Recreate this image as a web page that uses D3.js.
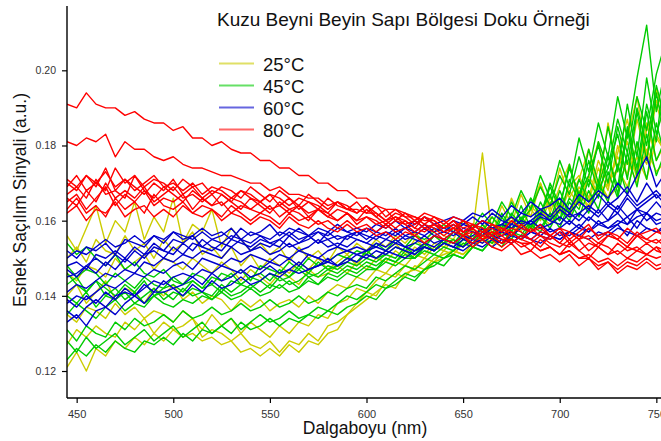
<!DOCTYPE html>
<html>
<head>
<meta charset="utf-8">
<script src="https://cdn.jsdelivr.net/npm/d3@7"></script>
<style>
  html, body { margin: 0; padding: 0; background: #fff; }
  svg { display: block; font-family: "Liberation Sans", Arial, Helvetica, sans-serif; }
</style>
</head>
<body>
<svg id="chart" width="661" height="441"></svg>
<script>
// Wavelength grid of the recorded spectra (nm)
const wavelengths = [
  445, 450, 455, 460, 465, 470, 475, 480, 485, 490,
  495, 500, 505, 510, 515, 520, 525, 530, 535, 540,
  545, 550, 555, 560, 565, 570, 575, 580, 585, 590,
  595, 600, 605, 610, 615, 620, 625, 630, 635, 640,
  645, 650, 655, 660, 665, 670, 675, 680, 685, 690,
  695, 700, 705, 710, 715, 720, 725, 730, 735, 740,
  745, 750, 755
];

const temperatures = ["25°C", "45°C", "60°C", "80°C"];
const seriesColors = ["#cccc00", "#00cc00", "#0000cc", "#ff0000"];

const xTicks = [450, 500, 550, 600, 650, 700, 750];
const yTicks = [0.12, 0.14, 0.16, 0.18, 0.20];

// 25°C spectra
const spectra25 = [
  [0.156, 0.152, 0.158, 0.164, 0.154, 0.160, 0.157, 0.165, 0.155, 0.161,
   0.157, 0.166, 0.154, 0.159, 0.157, 0.163, 0.153, 0.158, 0.155, 0.152,
   0.154, 0.151, 0.153, 0.149, 0.153, 0.150, 0.152, 0.149, 0.153, 0.151,
   0.154, 0.152, 0.155, 0.153, 0.156, 0.154, 0.157, 0.154, 0.158, 0.156,
   0.155, 0.160, 0.157, 0.178, 0.156, 0.164, 0.159, 0.167, 0.161, 0.170,
   0.163, 0.174, 0.166, 0.171, 0.179, 0.168, 0.186, 0.174, 0.182, 0.193,
   0.177, 0.195, 0.186],
  [0.150, 0.153, 0.149, 0.155, 0.152, 0.151, 0.156, 0.152, 0.154, 0.150,
   0.155, 0.152, 0.154, 0.157, 0.151, 0.153, 0.150, 0.153, 0.148, 0.151,
   0.147, 0.150, 0.148, 0.146, 0.149, 0.147, 0.150, 0.147, 0.149, 0.151,
   0.148, 0.152, 0.150, 0.152, 0.154, 0.151, 0.155, 0.153, 0.156, 0.154,
   0.157, 0.155, 0.159, 0.158, 0.161, 0.157, 0.166, 0.160, 0.163, 0.170,
   0.162, 0.169, 0.175, 0.165, 0.172, 0.181, 0.169, 0.178, 0.187, 0.173,
   0.184, 0.191, 0.182],
  [0.146, 0.144, 0.148, 0.147, 0.145, 0.150, 0.147, 0.149, 0.151, 0.147,
   0.150, 0.149, 0.147, 0.150, 0.148, 0.146, 0.149, 0.147, 0.144, 0.147,
   0.145, 0.143, 0.146, 0.145, 0.143, 0.147, 0.145, 0.146, 0.148, 0.146,
   0.149, 0.147, 0.150, 0.149, 0.152, 0.150, 0.153, 0.151, 0.154, 0.153,
   0.155, 0.153, 0.157, 0.155, 0.159, 0.158, 0.161, 0.157, 0.164, 0.161,
   0.166, 0.163, 0.169, 0.172, 0.166, 0.176, 0.170, 0.174, 0.181, 0.171,
   0.186, 0.176, 0.181],
  [0.140, 0.143, 0.138, 0.141, 0.144, 0.139, 0.142, 0.141, 0.138, 0.142,
   0.140, 0.143, 0.139, 0.141, 0.138, 0.140, 0.139, 0.136, 0.139, 0.137,
   0.139, 0.136, 0.138, 0.139, 0.137, 0.140, 0.138, 0.141, 0.143, 0.142,
   0.145, 0.144, 0.147, 0.146, 0.149, 0.148, 0.151, 0.150, 0.153, 0.152,
   0.155, 0.153, 0.156, 0.154, 0.158, 0.157, 0.160, 0.158, 0.163, 0.160,
   0.165, 0.162, 0.168, 0.164, 0.172, 0.167, 0.170, 0.177, 0.172, 0.180,
   0.175, 0.183, 0.178],
  [0.135, 0.133, 0.137, 0.136, 0.134, 0.138, 0.135, 0.137, 0.134, 0.136,
   0.135, 0.133, 0.136, 0.134, 0.131, 0.135, 0.132, 0.134, 0.130, 0.133,
   0.131, 0.129, 0.132, 0.130, 0.133, 0.132, 0.135, 0.134, 0.138, 0.139,
   0.142, 0.141, 0.144, 0.146, 0.145, 0.148, 0.147, 0.150, 0.149, 0.152,
   0.151, 0.154, 0.153, 0.156, 0.154, 0.158, 0.156, 0.160, 0.157, 0.163,
   0.160, 0.164, 0.161, 0.168, 0.163, 0.171, 0.166, 0.169, 0.176, 0.170,
   0.179, 0.173, 0.176],
  [0.127, 0.131, 0.129, 0.132, 0.130, 0.129, 0.133, 0.131, 0.134, 0.130,
   0.133, 0.131, 0.132, 0.134, 0.129, 0.131, 0.130, 0.128, 0.130, 0.127,
   0.126, 0.128, 0.125, 0.128, 0.127, 0.130, 0.128, 0.132, 0.133, 0.135,
   0.138, 0.141, 0.140, 0.144, 0.146, 0.145, 0.148, 0.147, 0.150, 0.151,
   0.152, 0.151, 0.154, 0.156, 0.154, 0.158, 0.156, 0.159, 0.158, 0.161,
   0.159, 0.163, 0.161, 0.167, 0.164, 0.170, 0.166, 0.174, 0.169, 0.177,
   0.171, 0.182, 0.178],
  [0.121, 0.125, 0.120, 0.126, 0.124, 0.128, 0.126, 0.129, 0.127, 0.130,
   0.128, 0.131, 0.129, 0.130, 0.128, 0.129, 0.127, 0.128, 0.125, 0.126,
   0.124, 0.126, 0.124, 0.127, 0.125, 0.128, 0.127, 0.130, 0.131, 0.135,
   0.137, 0.139, 0.141, 0.143, 0.142, 0.146, 0.147, 0.146, 0.149, 0.150,
   0.152, 0.151, 0.153, 0.155, 0.153, 0.157, 0.155, 0.159, 0.158, 0.163,
   0.160, 0.166, 0.162, 0.169, 0.165, 0.174, 0.168, 0.180, 0.172, 0.187,
   0.176, 0.192, 0.186]
];

// 45°C spectra
const spectra45 = [
  [0.154, 0.151, 0.153, 0.150, 0.148, 0.151, 0.147, 0.149, 0.146, 0.145,
   0.147, 0.144, 0.143, 0.146, 0.145, 0.143, 0.146, 0.145, 0.147, 0.144,
   0.148, 0.147, 0.146, 0.149, 0.147, 0.150, 0.148, 0.149, 0.151, 0.150,
   0.152, 0.151, 0.154, 0.152, 0.155, 0.153, 0.156, 0.155, 0.157, 0.159,
   0.157, 0.160, 0.158, 0.162, 0.159, 0.165, 0.161, 0.168, 0.163, 0.172,
   0.166, 0.176, 0.169, 0.182, 0.173, 0.186, 0.177, 0.193, 0.182, 0.198,
   0.212, 0.189, 0.201],
  [0.148, 0.145, 0.147, 0.146, 0.143, 0.146, 0.144, 0.142, 0.145, 0.143,
   0.142, 0.145, 0.143, 0.144, 0.142, 0.145, 0.144, 0.146, 0.143, 0.145,
   0.146, 0.144, 0.147, 0.145, 0.148, 0.146, 0.149, 0.147, 0.148, 0.150,
   0.149, 0.152, 0.150, 0.151, 0.153, 0.152, 0.154, 0.153, 0.156, 0.154,
   0.157, 0.156, 0.159, 0.157, 0.161, 0.158, 0.165, 0.160, 0.163, 0.169,
   0.164, 0.172, 0.167, 0.177, 0.169, 0.181, 0.174, 0.187, 0.178, 0.193,
   0.184, 0.199, 0.208],
  [0.143, 0.145, 0.141, 0.144, 0.142, 0.140, 0.143, 0.141, 0.144, 0.140,
   0.142, 0.143, 0.141, 0.144, 0.142, 0.143, 0.141, 0.144, 0.143, 0.145,
   0.144, 0.146, 0.144, 0.145, 0.147, 0.145, 0.146, 0.148, 0.147, 0.149,
   0.148, 0.150, 0.149, 0.151, 0.150, 0.153, 0.151, 0.154, 0.152, 0.155,
   0.154, 0.157, 0.155, 0.159, 0.156, 0.162, 0.158, 0.160, 0.166, 0.161,
   0.170, 0.164, 0.174, 0.167, 0.172, 0.180, 0.170, 0.185, 0.175, 0.190,
   0.180, 0.196, 0.186],
  [0.140, 0.138, 0.141, 0.137, 0.140, 0.139, 0.141, 0.138, 0.140, 0.142,
   0.139, 0.141, 0.140, 0.142, 0.141, 0.140, 0.143, 0.141, 0.143, 0.142,
   0.144, 0.142, 0.145, 0.143, 0.144, 0.146, 0.145, 0.147, 0.146, 0.148,
   0.147, 0.149, 0.148, 0.150, 0.149, 0.152, 0.150, 0.153, 0.152, 0.154,
   0.153, 0.156, 0.155, 0.158, 0.155, 0.161, 0.157, 0.164, 0.158, 0.162,
   0.167, 0.160, 0.171, 0.165, 0.176, 0.168, 0.174, 0.183, 0.171, 0.189,
   0.176, 0.194, 0.181],
  [0.135, 0.138, 0.136, 0.134, 0.137, 0.139, 0.136, 0.138, 0.137, 0.140,
   0.138, 0.137, 0.139, 0.138, 0.140, 0.139, 0.141, 0.139, 0.140, 0.142,
   0.140, 0.141, 0.143, 0.141, 0.142, 0.144, 0.143, 0.145, 0.144, 0.146,
   0.145, 0.147, 0.147, 0.149, 0.148, 0.150, 0.150, 0.152, 0.151, 0.153,
   0.152, 0.155, 0.154, 0.157, 0.155, 0.159, 0.157, 0.161, 0.158, 0.165,
   0.160, 0.168, 0.162, 0.171, 0.165, 0.169, 0.178, 0.167, 0.184, 0.172,
   0.189, 0.176, 0.182],
  [0.131, 0.128, 0.132, 0.130, 0.129, 0.133, 0.131, 0.134, 0.132, 0.133,
   0.135, 0.133, 0.136, 0.134, 0.135, 0.137, 0.135, 0.136, 0.138, 0.136,
   0.137, 0.139, 0.137, 0.138, 0.140, 0.138, 0.139, 0.141, 0.140, 0.142,
   0.143, 0.142, 0.145, 0.144, 0.146, 0.148, 0.147, 0.149, 0.151, 0.150,
   0.152, 0.154, 0.153, 0.155, 0.154, 0.157, 0.155, 0.159, 0.157, 0.161,
   0.158, 0.163, 0.160, 0.166, 0.162, 0.170, 0.165, 0.175, 0.167, 0.181,
   0.171, 0.186, 0.176],
  [0.128, 0.125, 0.129, 0.126, 0.128, 0.130, 0.127, 0.129, 0.131, 0.128,
   0.130, 0.132, 0.129, 0.131, 0.133, 0.130, 0.132, 0.134, 0.131, 0.133,
   0.135, 0.133, 0.134, 0.136, 0.134, 0.135, 0.137, 0.136, 0.138, 0.140,
   0.139, 0.141, 0.143, 0.142, 0.144, 0.146, 0.145, 0.147, 0.149, 0.148,
   0.151, 0.150, 0.153, 0.152, 0.155, 0.153, 0.157, 0.155, 0.159, 0.157,
   0.162, 0.158, 0.165, 0.161, 0.168, 0.163, 0.173, 0.166, 0.178, 0.169,
   0.183, 0.172, 0.179],
  [0.123, 0.126, 0.124, 0.127, 0.125, 0.128, 0.126, 0.125, 0.128, 0.127,
   0.129, 0.127, 0.130, 0.128, 0.131, 0.130, 0.132, 0.130, 0.133, 0.131,
   0.132, 0.134, 0.132, 0.134, 0.133, 0.135, 0.134, 0.136, 0.135, 0.137,
   0.138, 0.140, 0.139, 0.142, 0.143, 0.145, 0.144, 0.147, 0.148, 0.150,
   0.151, 0.150, 0.153, 0.152, 0.155, 0.154, 0.157, 0.156, 0.160, 0.158,
   0.162, 0.160, 0.166, 0.163, 0.171, 0.166, 0.177, 0.169, 0.185, 0.174,
   0.191, 0.181, 0.203],
  [0.146, 0.143, 0.141, 0.144, 0.140, 0.142, 0.139, 0.141, 0.138, 0.140,
   0.141, 0.139, 0.142, 0.140, 0.141, 0.139, 0.142, 0.140, 0.141, 0.143,
   0.141, 0.143, 0.142, 0.144, 0.142, 0.145, 0.143, 0.146, 0.145, 0.147,
   0.146, 0.148, 0.147, 0.150, 0.149, 0.151, 0.150, 0.153, 0.152, 0.154,
   0.155, 0.153, 0.157, 0.156, 0.159, 0.157, 0.162, 0.159, 0.166, 0.161,
   0.169, 0.163, 0.175, 0.166, 0.179, 0.170, 0.185, 0.173, 0.191, 0.177,
   0.198, 0.183, 0.192]
];

// 60°C spectra
const spectra60 = [
  [0.152, 0.150, 0.153, 0.152, 0.154, 0.151, 0.155, 0.154, 0.153, 0.156,
   0.154, 0.157, 0.156, 0.155, 0.157, 0.155, 0.156, 0.158, 0.155, 0.157,
   0.156, 0.155, 0.157, 0.156, 0.158, 0.156, 0.157, 0.156, 0.158, 0.157,
   0.156, 0.158, 0.157, 0.159, 0.157, 0.158, 0.160, 0.158, 0.159, 0.158,
   0.160, 0.159, 0.161, 0.159, 0.162, 0.160, 0.159, 0.162, 0.161, 0.163,
   0.161, 0.164, 0.162, 0.165, 0.163, 0.167, 0.164, 0.166, 0.169, 0.165,
   0.170, 0.166, 0.168],
  [0.148, 0.149, 0.147, 0.151, 0.150, 0.152, 0.150, 0.153, 0.151, 0.154,
   0.152, 0.155, 0.154, 0.156, 0.153, 0.155, 0.154, 0.156, 0.155, 0.154,
   0.156, 0.154, 0.155, 0.157, 0.155, 0.156, 0.154, 0.157, 0.155, 0.156,
   0.157, 0.155, 0.157, 0.156, 0.158, 0.156, 0.157, 0.159, 0.157, 0.158,
   0.157, 0.159, 0.158, 0.160, 0.158, 0.159, 0.161, 0.159, 0.160, 0.162,
   0.160, 0.163, 0.161, 0.162, 0.164, 0.162, 0.165, 0.163, 0.167, 0.164,
   0.166, 0.168, 0.165],
  [0.145, 0.146, 0.148, 0.146, 0.149, 0.147, 0.150, 0.148, 0.151, 0.152,
   0.150, 0.153, 0.151, 0.154, 0.153, 0.152, 0.154, 0.153, 0.155, 0.152,
   0.154, 0.153, 0.155, 0.153, 0.154, 0.156, 0.154, 0.155, 0.153, 0.156,
   0.155, 0.154, 0.156, 0.155, 0.157, 0.155, 0.156, 0.158, 0.156, 0.157,
   0.156, 0.158, 0.157, 0.156, 0.158, 0.157, 0.159, 0.158, 0.160, 0.158,
   0.159, 0.161, 0.159, 0.162, 0.160, 0.163, 0.160, 0.164, 0.161, 0.163,
   0.162, 0.165, 0.162],
  [0.141, 0.143, 0.142, 0.144, 0.146, 0.145, 0.147, 0.146, 0.149, 0.148,
   0.150, 0.149, 0.151, 0.150, 0.152, 0.151, 0.150, 0.153, 0.151, 0.152,
   0.153, 0.151, 0.152, 0.154, 0.152, 0.153, 0.155, 0.153, 0.154, 0.153,
   0.155, 0.154, 0.153, 0.155, 0.154, 0.156, 0.155, 0.154, 0.156, 0.155,
   0.157, 0.155, 0.156, 0.158, 0.156, 0.157, 0.156, 0.158, 0.157, 0.159,
   0.157, 0.158, 0.160, 0.158, 0.161, 0.159, 0.160, 0.162, 0.159, 0.163,
   0.160, 0.162, 0.161],
  [0.138, 0.140, 0.139, 0.141, 0.143, 0.142, 0.144, 0.146, 0.145, 0.147,
   0.146, 0.148, 0.149, 0.147, 0.150, 0.149, 0.148, 0.150, 0.149, 0.151,
   0.150, 0.149, 0.151, 0.150, 0.152, 0.151, 0.150, 0.152, 0.153, 0.152,
   0.153, 0.152, 0.154, 0.153, 0.155, 0.153, 0.154, 0.156, 0.154, 0.155,
   0.154, 0.156, 0.155, 0.157, 0.155, 0.156, 0.157, 0.155, 0.157, 0.156,
   0.158, 0.156, 0.157, 0.159, 0.157, 0.160, 0.158, 0.159, 0.161, 0.158,
   0.162, 0.159, 0.160],
  [0.136, 0.134, 0.137, 0.139, 0.137, 0.140, 0.141, 0.140, 0.142, 0.144,
   0.143, 0.145, 0.146, 0.145, 0.147, 0.146, 0.148, 0.147, 0.146, 0.148,
   0.147, 0.149, 0.148, 0.150, 0.148, 0.151, 0.150, 0.149, 0.151, 0.152,
   0.151, 0.152, 0.153, 0.152, 0.154, 0.153, 0.152, 0.154, 0.153, 0.155,
   0.154, 0.153, 0.155, 0.154, 0.156, 0.155, 0.154, 0.156, 0.155, 0.157,
   0.156, 0.155, 0.157, 0.156, 0.158, 0.156, 0.157, 0.159, 0.156, 0.160,
   0.158, 0.157, 0.159],
  [0.133, 0.135, 0.132, 0.136, 0.137, 0.135, 0.138, 0.140, 0.138, 0.141,
   0.141, 0.142, 0.140, 0.143, 0.141, 0.144, 0.142, 0.143, 0.145, 0.143,
   0.144, 0.146, 0.145, 0.147, 0.146, 0.147, 0.148, 0.149, 0.148, 0.150,
   0.149, 0.151, 0.150, 0.152, 0.151, 0.150, 0.152, 0.153, 0.152, 0.154,
   0.153, 0.152, 0.154, 0.155, 0.153, 0.155, 0.154, 0.156, 0.155, 0.154,
   0.156, 0.155, 0.157, 0.156, 0.155, 0.157, 0.156, 0.158, 0.157, 0.156,
   0.158, 0.157, 0.158],
  [0.150, 0.152, 0.151, 0.153, 0.155, 0.153, 0.154, 0.156, 0.154, 0.156,
   0.155, 0.157, 0.155, 0.156, 0.158, 0.156, 0.157, 0.155, 0.158, 0.156,
   0.157, 0.159, 0.156, 0.158, 0.157, 0.156, 0.158, 0.157, 0.159, 0.157,
   0.158, 0.157, 0.159, 0.158, 0.160, 0.158, 0.159, 0.161, 0.159, 0.160,
   0.161, 0.160, 0.162, 0.161, 0.163, 0.161, 0.164, 0.162, 0.165, 0.163,
   0.164, 0.166, 0.163, 0.167, 0.165, 0.168, 0.166, 0.170, 0.167, 0.172,
   0.177, 0.169, 0.173],
  [0.147, 0.145, 0.148, 0.150, 0.148, 0.151, 0.149, 0.152, 0.150, 0.153,
   0.152, 0.151, 0.154, 0.152, 0.155, 0.153, 0.152, 0.155, 0.154, 0.153,
   0.155, 0.154, 0.153, 0.156, 0.154, 0.155, 0.157, 0.155, 0.156, 0.155,
   0.157, 0.156, 0.155, 0.157, 0.156, 0.158, 0.157, 0.156, 0.158, 0.157,
   0.159, 0.157, 0.158, 0.160, 0.158, 0.159, 0.158, 0.160, 0.159, 0.161,
   0.160, 0.159, 0.162, 0.160, 0.163, 0.161, 0.164, 0.162, 0.166, 0.163,
   0.165, 0.167, 0.164],
  [0.139, 0.137, 0.140, 0.138, 0.141, 0.139, 0.142, 0.140, 0.143, 0.141,
   0.144, 0.142, 0.143, 0.145, 0.143, 0.146, 0.144, 0.145, 0.147, 0.145,
   0.146, 0.148, 0.146, 0.147, 0.149, 0.147, 0.148, 0.150, 0.148, 0.149,
   0.151, 0.150, 0.152, 0.151, 0.153, 0.152, 0.151, 0.153, 0.152, 0.154,
   0.153, 0.155, 0.154, 0.153, 0.155, 0.154, 0.156, 0.155, 0.157, 0.156,
   0.155, 0.157, 0.156, 0.158, 0.157, 0.159, 0.158, 0.160, 0.159, 0.161,
   0.162, 0.160, 0.161]
];

// 80°C spectra
const spectra80 = [
  [0.191, 0.190, 0.194, 0.191, 0.190, 0.190, 0.188, 0.189, 0.187, 0.186,
   0.186, 0.184, 0.185, 0.182, 0.182, 0.180, 0.181, 0.179, 0.178, 0.178,
   0.176, 0.176, 0.174, 0.174, 0.172, 0.172, 0.170, 0.170, 0.168, 0.168,
   0.166, 0.166, 0.164, 0.163, 0.163, 0.161, 0.161, 0.160, 0.160, 0.158,
   0.159, 0.157, 0.158, 0.156, 0.157, 0.155, 0.155, 0.154, 0.154, 0.152,
   0.153, 0.151, 0.152, 0.150, 0.150, 0.148, 0.149, 0.147, 0.149, 0.148,
   0.150, 0.148, 0.149],
  [0.181, 0.180, 0.182, 0.181, 0.183, 0.177, 0.181, 0.179, 0.179, 0.177,
   0.176, 0.177, 0.175, 0.174, 0.174, 0.173, 0.172, 0.172, 0.171, 0.170,
   0.170, 0.168, 0.169, 0.167, 0.167, 0.166, 0.166, 0.164, 0.165, 0.163,
   0.163, 0.162, 0.162, 0.160, 0.161, 0.159, 0.160, 0.158, 0.159, 0.157,
   0.158, 0.156, 0.157, 0.155, 0.156, 0.154, 0.155, 0.153, 0.154, 0.152,
   0.153, 0.151, 0.152, 0.150, 0.151, 0.149, 0.150, 0.148, 0.150, 0.149,
   0.151, 0.150, 0.151],
  [0.170, 0.168, 0.172, 0.169, 0.174, 0.168, 0.171, 0.169, 0.167, 0.170,
   0.168, 0.171, 0.167, 0.169, 0.166, 0.168, 0.167, 0.165, 0.168, 0.166,
   0.165, 0.167, 0.164, 0.166, 0.163, 0.165, 0.164, 0.162, 0.165, 0.163,
   0.162, 0.164, 0.161, 0.163, 0.160, 0.162, 0.161, 0.159, 0.161, 0.160,
   0.158, 0.160, 0.159, 0.157, 0.159, 0.158, 0.156, 0.159, 0.157, 0.158,
   0.156, 0.158, 0.155, 0.157, 0.159, 0.155, 0.157, 0.156, 0.154, 0.157,
   0.155, 0.157, 0.156],
  [0.167, 0.169, 0.166, 0.171, 0.167, 0.168, 0.166, 0.172, 0.168, 0.166,
   0.169, 0.167, 0.165, 0.168, 0.166, 0.164, 0.167, 0.165, 0.163, 0.166,
   0.164, 0.162, 0.165, 0.163, 0.164, 0.162, 0.163, 0.161, 0.163, 0.162,
   0.160, 0.163, 0.161, 0.159, 0.161, 0.160, 0.158, 0.161, 0.159, 0.158,
   0.160, 0.157, 0.159, 0.158, 0.156, 0.158, 0.157, 0.155, 0.158, 0.156,
   0.155, 0.157, 0.154, 0.156, 0.155, 0.153, 0.156, 0.155, 0.153, 0.156,
   0.154, 0.155, 0.153],
  [0.165, 0.167, 0.163, 0.166, 0.169, 0.164, 0.167, 0.165, 0.168, 0.164,
   0.166, 0.165, 0.167, 0.163, 0.166, 0.164, 0.165, 0.162, 0.164, 0.163,
   0.162, 0.164, 0.161, 0.163, 0.162, 0.160, 0.163, 0.161, 0.160, 0.162,
   0.159, 0.161, 0.160, 0.158, 0.160, 0.159, 0.157, 0.159, 0.158, 0.156,
   0.158, 0.157, 0.155, 0.157, 0.156, 0.154, 0.157, 0.155, 0.154, 0.156,
   0.154, 0.153, 0.155, 0.152, 0.154, 0.153, 0.151, 0.154, 0.152, 0.153,
   0.151, 0.153, 0.152],
  [0.163, 0.166, 0.162, 0.164, 0.161, 0.166, 0.163, 0.165, 0.162, 0.167,
   0.164, 0.163, 0.165, 0.162, 0.164, 0.163, 0.161, 0.164, 0.162, 0.160,
   0.162, 0.161, 0.159, 0.162, 0.160, 0.161, 0.159, 0.160, 0.158, 0.160,
   0.158, 0.159, 0.157, 0.159, 0.157, 0.158, 0.156, 0.158, 0.157, 0.155,
   0.157, 0.156, 0.154, 0.156, 0.155, 0.153, 0.155, 0.154, 0.152, 0.155,
   0.153, 0.151, 0.154, 0.152, 0.150, 0.153, 0.151, 0.152, 0.150, 0.152,
   0.151, 0.153, 0.150],
  [0.162, 0.164, 0.160, 0.163, 0.162, 0.165, 0.161, 0.163, 0.164, 0.161,
   0.163, 0.161, 0.164, 0.162, 0.161, 0.163, 0.160, 0.162, 0.161, 0.159,
   0.161, 0.160, 0.158, 0.161, 0.159, 0.158, 0.160, 0.158, 0.157, 0.159,
   0.157, 0.158, 0.156, 0.157, 0.155, 0.157, 0.156, 0.154, 0.156, 0.155,
   0.154, 0.156, 0.153, 0.155, 0.153, 0.152, 0.154, 0.151, 0.152, 0.150,
   0.151, 0.149, 0.151, 0.148, 0.150, 0.147, 0.149, 0.146, 0.148, 0.147,
   0.149, 0.147, 0.148],
  [0.169, 0.172, 0.168, 0.170, 0.173, 0.169, 0.171, 0.168, 0.170, 0.172,
   0.169, 0.170, 0.168, 0.170, 0.167, 0.169, 0.168, 0.166, 0.168, 0.167,
   0.165, 0.167, 0.166, 0.164, 0.166, 0.165, 0.163, 0.166, 0.164, 0.163,
   0.165, 0.162, 0.164, 0.161, 0.163, 0.162, 0.160, 0.162, 0.161, 0.159,
   0.161, 0.160, 0.158, 0.160, 0.159, 0.157, 0.160, 0.158, 0.157, 0.159,
   0.156, 0.158, 0.157, 0.155, 0.158, 0.156, 0.157, 0.155, 0.158, 0.156,
   0.157, 0.158, 0.155],
  [0.166, 0.164, 0.168, 0.165, 0.170, 0.166, 0.168, 0.166, 0.169, 0.165,
   0.167, 0.169, 0.166, 0.167, 0.165, 0.167, 0.164, 0.166, 0.165, 0.163,
   0.165, 0.163, 0.164, 0.162, 0.164, 0.161, 0.163, 0.162, 0.160, 0.162,
   0.160, 0.161, 0.159, 0.160, 0.158, 0.160, 0.158, 0.157, 0.159, 0.157,
   0.158, 0.156, 0.158, 0.155, 0.157, 0.156, 0.154, 0.156, 0.155, 0.153,
   0.156, 0.154, 0.153, 0.155, 0.152, 0.154, 0.153, 0.151, 0.153, 0.152,
   0.154, 0.152, 0.151],
  [0.171, 0.169, 0.172, 0.170, 0.168, 0.174, 0.170, 0.172, 0.169, 0.171,
   0.170, 0.168, 0.171, 0.169, 0.170, 0.167, 0.169, 0.168, 0.166, 0.169,
   0.167, 0.165, 0.168, 0.166, 0.164, 0.167, 0.165, 0.163, 0.165, 0.164,
   0.162, 0.164, 0.162, 0.160, 0.162, 0.161, 0.159, 0.161, 0.160, 0.158,
   0.160, 0.158, 0.159, 0.157, 0.158, 0.156, 0.158, 0.157, 0.155, 0.157,
   0.156, 0.154, 0.157, 0.155, 0.156, 0.154, 0.156, 0.155, 0.153, 0.156,
   0.155, 0.154, 0.156]
];

const spectraByTemp = [spectra25, spectra45, spectra60, spectra80];

const W = 661, H = 441;
const plot = { left: 67, top: 6, bottom: 398, right: 661 };

const svg = d3.select("#chart");

const x = d3.scaleLinear().domain([445, 755]).range([67, 666]);
const y = d3.scaleLinear().domain([0.11282, 0.21711]).range([plot.bottom, plot.top]);

svg.append("defs").append("clipPath").attr("id", "plotClip")
  .append("rect")
  .attr("x", plot.left).attr("y", plot.top)
  .attr("width", plot.right - plot.left).attr("height", plot.bottom - plot.top);

const line = d3.line()
  .x((d, i) => x(wavelengths[i]))
  .y(d => y(d));

// Spectra, coolest first so the 80°C set sits on top
const lines = svg.append("g").attr("clip-path", "url(#plotClip)");
spectraByTemp.forEach((group, gi) => {
  lines.append("g")
    .selectAll("path")
    .data(group)
    .join("path")
    .attr("d", line)
    .attr("fill", "none")
    .attr("stroke", seriesColors[gi])
    .attr("stroke-width", 1.4)
    .attr("stroke-linejoin", "round");
});

// Axes
const xAxis = d3.axisBottom(x).tickValues(xTicks).tickSize(5).tickPadding(7).tickFormat(d3.format("d"));
const yAxis = d3.axisLeft(y).tickValues(yTicks).tickSize(5).tickPadding(6).tickFormat(d3.format(".2f"));

const gx = svg.append("g").attr("transform", `translate(0,${plot.bottom})`).call(xAxis);
const gy = svg.append("g").attr("transform", `translate(${plot.left},0)`).call(yAxis);

gx.select(".domain").attr("d", `M${plot.left},0H${W}`);
gy.select(".domain").attr("d", `M0,${plot.top}V${plot.bottom}`);

[gx, gy].forEach(g => {
  g.select(".domain").attr("stroke", "#000").attr("stroke-width", 1.4);
  g.selectAll(".tick line").attr("stroke", "#000").attr("stroke-width", 1.2);
  g.selectAll(".tick text")
    .attr("fill", "#333")
    .style("font-family", "'Liberation Sans', Arial, sans-serif");
});
gx.selectAll(".tick text").style("font-size", "11px");
gy.selectAll(".tick text").style("font-size", "10.5px");

// Axis titles
svg.append("text")
  .attr("x", 365).attr("y", 434)
  .attr("text-anchor", "middle")
  .style("font-size", "17.5px")
  .attr("fill", "#111")
  .text("Dalgaboyu (nm)");

svg.append("text")
  .attr("transform", "translate(26,200) rotate(-90)")
  .attr("text-anchor", "middle")
  .style("font-size", "17.5px")
  .attr("fill", "#111")
  .text("Esnek Saçılım Sinyali (a.u.)");

// Title
svg.append("text")
  .attr("x", 217).attr("y", 26)
  .style("font-size", "19px")
  .attr("fill", "#111")
  .text("Kuzu Beyni Beyin Sapı Bölgesi Doku Örneği");

// Legend
const legend = svg.append("g");
const legendY = [63.5, 85.5, 107.5, 129.5];
temperatures.forEach((t, i) => {
  legend.append("line")
    .attr("x1", 219).attr("x2", 254)
    .attr("y1", legendY[i]).attr("y2", legendY[i])
    .attr("stroke", seriesColors[i])
    .attr("stroke-opacity", 0.6)
    .attr("stroke-width", 2);
  legend.append("text")
    .attr("x", 263).attr("y", legendY[i] + 7)
    .style("font-size", "18.5px")
    .attr("fill", "#111")
    .text(t);
});
</script>
</body>
</html>
